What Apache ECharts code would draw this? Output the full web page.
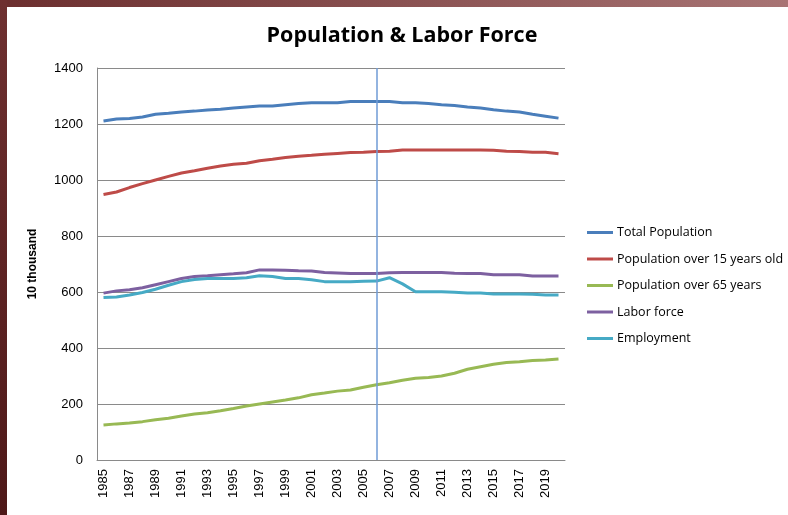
<!DOCTYPE html>
<html>
<head>
    <meta charset="UTF-8">
    <title>Population & Labor Force</title>
    <script src="https://cdn.jsdelivr.net/npm/echarts@6/dist/echarts.min.js"></script>
    <style>
        body { margin: 0; background: #fff; }
    </style>
</head>
<body>
<div id="chart" style="width:788px; height:515px;"></div>
<script>
    // years on the x axis
    var years = [];
    for (var y = 1985; y <= 2020; y++) years.push(String(y));

    var totalPopulation = [1211, 1218, 1220, 1225, 1235, 1238, 1243, 1246, 1250, 1253, 1257, 1261,
        1264, 1264, 1269, 1273, 1276, 1276, 1276, 1280, 1280, 1280, 1280, 1276, 1276, 1273,
        1269, 1266, 1261, 1257, 1251, 1246, 1243, 1235, 1228, 1221];
    var popOver15 = [948, 957, 973, 987, 1000, 1013, 1025, 1033, 1042, 1050, 1056, 1060,
        1069, 1074, 1080, 1085, 1088, 1092, 1095, 1098, 1099, 1102, 1103, 1107, 1107, 1107,
        1107, 1107, 1107, 1107, 1106, 1103, 1102, 1099, 1099, 1094];
    var popOver65 = [125, 129, 132, 137, 144, 149, 157, 164, 169, 176, 184, 193,
        200, 207, 214, 222, 233, 239, 246, 250, 260, 269, 276, 285, 292, 295,
        300, 310, 324, 333, 342, 348, 351, 355, 357, 361];
    var laborForce = [596, 604, 608, 615, 626, 637, 648, 655, 658, 662, 665, 669,
        679, 679, 678, 676, 675, 670, 668, 666, 666, 666, 669, 670, 670, 670,
        670, 667, 666, 666, 662, 662, 662, 657, 657, 657];
    var employment = [580, 582, 589, 598, 610, 624, 637, 645, 648, 648, 648, 651,
        658, 655, 648, 648, 644, 637, 637, 637, 638, 639, 651, 629, 601, 601,
        601, 599, 596, 596, 593, 593, 593, 592, 589, 589];

    var markYear = '2006';

    var chart = echarts.init(document.getElementById('chart'), null, {renderer: 'canvas'});

    function lineSeries(name, data, color) {
        return {
            name: name,
            type: 'line',
            data: data,
            symbol: 'none',
            lineStyle: {width: 3, color: color},
            itemStyle: {color: color}
        };
    }

    var series = [
        lineSeries('Total Population', totalPopulation, '#4a7ebb'),
        lineSeries('Population over 15 years old', popOver15, '#be4b48'),
        lineSeries('Population over 65 years', popOver65, '#98b954'),
        lineSeries('Labor force', laborForce, '#7d60a0'),
        lineSeries('Employment', employment, '#46aac5')
    ];
    // vertical marker line
    series[0].markLine = {
        silent: true,
        symbol: 'none',
        label: {show: false},
        lineStyle: {color: '#6f9bd6', width: 1.5, type: 'solid'},
        data: [{xAxis: markYear}]
    };

    var option = {
        backgroundColor: '#fff',
        animation: false,
        textStyle: {fontFamily: 'Liberation Sans'},
        title: {
            text: 'Population & Labor Force',
            left: 397,
            textAlign: 'center',
            top: 20,
            textStyle: {fontFamily: 'Open Sans', fontWeight: 'bold', fontSize: 21.5, color: '#000'}
        },
        legend: {
            orient: 'vertical',
            left: 587,
            top: 226,
            padding: 0,
            itemWidth: 26,
            itemHeight: 3,
            itemGap: 13.5,
            icon: 'rect',
            textStyle: {fontFamily: 'Open Sans', fontSize: 12.5, color: '#000', padding: [0, 0, 0, -1]},
            data: series.map(function (s) { return s.name; })
        },
        grid: {left: 97, right: 223, top: 68, bottom: 55},
        xAxis: {
            type: 'category',
            data: years,
            boundaryGap: true,
            axisLine: {lineStyle: {color: '#8a8a8a', width: 1}},
            axisTick: {show: false},
            axisLabel: {
                interval: 1,
                rotate: 90,
                margin: 9,
                fontSize: 13,
                color: '#000'
            }
        },
        yAxis: {
            type: 'value',
            min: 0,
            max: 1400,
            interval: 200,
            name: '10 thousand',
            nameLocation: 'middle',
            nameGap: 58,
            nameTextStyle: {fontWeight: 'bold', fontSize: 12, color: '#000'},
            axisLine: {show: true, lineStyle: {color: '#8a8a8a'}},
            axisTick: {show: false},
            axisLabel: {
                fontSize: 13,
                color: '#000',
                margin: 14,
                formatter: function (v) { return String(v); }
            },
            splitLine: {lineStyle: {color: '#8a8a8a', width: 1}}
        },
        graphic: [
            {
                type: 'rect',
                shape: {x: 0, y: 0, width: 788, height: 7},
                style: {
                    fill: new echarts.graphic.LinearGradient(0, 0, 1, 0, [
                        {offset: 0, color: '#6b2e2e'},
                        {offset: 1, color: '#a87474'}
                    ])
                },
                z: 100
            },
            {
                type: 'rect',
                shape: {x: 0, y: 0, width: 7, height: 515},
                style: {
                    fill: new echarts.graphic.LinearGradient(0, 0, 0, 1, [
                        {offset: 0, color: '#6e3030'},
                        {offset: 1, color: '#4e1818'}
                    ])
                },
                z: 100
            }
        ],
        series: series
    };

    chart.setOption(option);
</script>
</body>
</html>
